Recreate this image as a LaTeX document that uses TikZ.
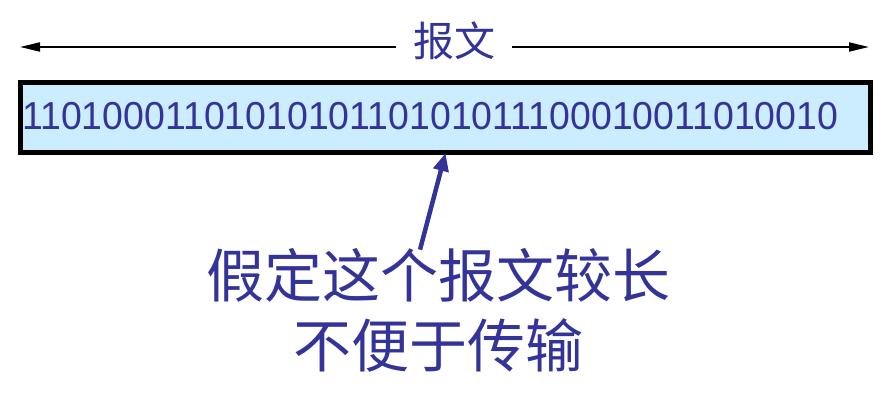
\documentclass[tikz,border=0pt]{standalone}
\usepackage{fontspec}
\setmainfont{Liberation Sans}
\newfontfamily\cjk{Noto Sans CJK SC}
\newfontfamily\digitfont[FakeStretch=0.96]{Liberation Sans}
\usetikzlibrary{arrows.meta}
\definecolor{msgblue}{RGB}{51,51,153}
\definecolor{msgfill}{RGB}{204,236,255}
\tikzset{
  msgbox/.style={draw=black,line width=5pt,fill=msgfill,minimum width=850pt,minimum height=70pt},
  span/.style={line width=2pt,{Triangle[length=20pt,width=9pt]}-{Triangle[length=20pt,width=9pt]}},
  pointer/.style={msgblue,line width=4.5pt,-{Triangle[length=18pt,width=15pt]}}
}
\begin{document}
\begin{tikzpicture}[x=1pt,y=-1pt]
    \useasboundingbox (0,0) rectangle (890,411);
    \node[msgbox] (msg) at (445.5,117.5) {};
    \node[anchor=base west,text=msgblue,font=\digitfont\fontsize{39}{42}\selectfont,inner sep=0pt] (bits) at (22,130) {1101000110101010110101011100010011010010};
    \coordinate (left) at (20,47);
    \coordinate (right) at (869,47);
    \draw[span] (left)--(right);
    \node[fill=white,inner xsep=17pt,text=msgblue,font=\cjk\fontsize{41}{44}\selectfont] (label) at (454,41) {报文};
    \node[anchor=base,text=msgblue,font=\cjk\fontsize{58}{62}\selectfont,inner sep=0pt] (note1) at (438,298) {假定这个报文较长};
    \node[anchor=base,text=msgblue,font=\cjk\fontsize{58}{62}\selectfont,inner sep=0pt] (note2) at (438,367) {不便于传输};
    \coordinate (tip) at (445.5,153);
    \draw[pointer] ([xshift=-18pt,yshift=-1pt]note1.north) -- (tip);
\end{tikzpicture}
\end{document}
